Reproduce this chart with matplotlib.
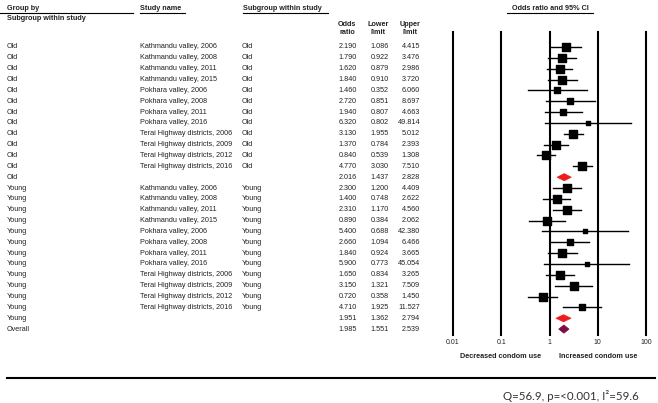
import matplotlib
matplotlib.use("Agg")
import matplotlib.pyplot as plt
import matplotlib.transforms as mtransforms
from matplotlib.patches import Polygon
import numpy as np

plt.rcParams['font.family'] = ['Liberation Sans', 'DejaVu Sans']

# study rows
studies = ['Kathmandu valley, 2006', 'Kathmandu valley, 2008', 'Kathmandu valley, 2011',
           'Kathmandu valley, 2015', 'Pokhara valley, 2006', 'Pokhara valley, 2008',
           'Pokhara valley, 2011', 'Pokhara valley, 2016', 'Terai Highway districts, 2006',
           'Terai Highway districts, 2009', 'Terai Highway districts, 2012',
           'Terai Highway districts, 2016']

old_or = [2.190, 1.790, 1.620, 1.840, 1.460, 2.720, 1.940, 6.320, 3.130, 1.370, 0.840, 4.770]
old_lo = [1.086, 0.922, 0.879, 0.910, 0.352, 0.851, 0.807, 0.802, 1.955, 0.784, 0.539, 3.030]
old_hi = [4.415, 3.476, 2.986, 3.720, 6.060, 8.697, 4.663, 49.814, 5.012, 2.393, 1.308, 7.510]

young_or = [2.300, 1.400, 2.310, 0.890, 5.400, 2.660, 1.840, 5.900, 1.650, 3.150, 0.720, 4.710]
young_lo = [1.200, 0.748, 1.170, 0.384, 0.688, 1.094, 0.924, 0.773, 0.834, 1.321, 0.358, 1.925]
young_hi = [4.409, 2.622, 4.560, 2.062, 42.380, 6.466, 3.665, 45.054, 3.265, 7.509, 1.450, 11.527]

# summaries: Old, Young, Overall
summary_labels = ['Old', 'Young', 'Overall']
summary_or = [2.016, 1.951, 1.985]
summary_lo = [1.437, 1.362, 1.551]
summary_hi = [2.828, 2.794, 2.539]

ticks = [0.01, 0.1, 1, 10, 100]
stats_text = 'Q=56.9, p=<0.001, I²=59.6'

W, H = 658, 403
fig = plt.figure(figsize=(W / 100, H / 100), dpi=100)


def fx(x):
    return x / W


def fy(y):
    return 1 - y / H


# forest axes: 0.01 at x=453px, 100 at x=646px; lines from y=32 to 335
ax = fig.add_axes([fx(453), fy(335), (646 - 453) / W, (335 - 32) / H])
row0, dy = 47.0, 10.85
ax.set_xscale('log')
ax.set_xlim(0.01, 100)
ax.set_ylim((335 - row0) / dy, (32 - row0) / dy)
for s in ax.spines.values():
    s.set_visible(False)
ax.set_yticks([])
ax.set_xticks(ticks)
ax.set_xticklabels(['0.01', '0.1', '1', '10', '100'])
ax.minorticks_off()
ax.tick_params(axis='x', length=0, pad=3, labelsize=5, colors='#222222')
for t in ticks:
    ax.axvline(t, color='black', lw=1.5, clip_on=False)

trans = mtransforms.blended_transform_factory(fig.transFigure, ax.transData)
fs = 5.2
tc = '#222222'

# random-effects style weights for square sizes
tau2 = 0.23


def sq_size(lo, hi):
    se = (np.log(np.array(hi)) - np.log(np.array(lo))) / 3.92
    w = 1 / (se ** 2 + tau2)
    side = 8.6 * np.sqrt(w / 3.52)
    return (side * 0.72) ** 2


def num(v):
    return f'{v:.3f}'


def row_text(i, group, study, sub, o, lo, hi):
    ax.text(fx(7), i, group, transform=trans, fontsize=fs, color=tc, va='center')
    if study:
        ax.text(fx(140), i, study, transform=trans, fontsize=fs, color=tc, va='center')
    if sub:
        ax.text(fx(242), i, sub, transform=trans, fontsize=fs, color=tc, va='center')
    ax.text(fx(357), i, num(o), transform=trans, fontsize=fs, color=tc, va='center', ha='right')
    ax.text(fx(389), i, num(lo), transform=trans, fontsize=fs, color=tc, va='center', ha='right')
    ax.text(fx(420), i, num(hi), transform=trans, fontsize=fs, color=tc, va='center', ha='right')


def diamond(i, o, lo, hi, color, h):
    ax.add_patch(Polygon([[lo, i], [o, i - h], [hi, i], [o, i + h]], closed=True,
                         facecolor=color, edgecolor=color, lw=0.5))


row = 0
groups = [('Old', old_or, old_lo, old_hi, 0), ('Young', young_or, young_lo, young_hi, 1)]
for name, o_vals, lo_vals, hi_vals, k in groups:
    sizes = sq_size(lo_vals, hi_vals)
    for j in range(len(studies)):
        row_text(row, name, studies[j], name, o_vals[j], lo_vals[j], hi_vals[j])
        ax.plot([lo_vals[j], hi_vals[j]], [row, row], color='black', lw=1.0)
        ax.scatter([o_vals[j]], [row], marker='s', s=sizes[j], color='black', zorder=3)
        row += 1
    row_text(row, summary_labels[k], '', '', summary_or[k], summary_lo[k], summary_hi[k])
    diamond(row, summary_or[k], summary_lo[k], summary_hi[k], '#ee1c1c', 0.33)
    row += 1
row_text(row, summary_labels[2], '', '', summary_or[2], summary_lo[2], summary_hi[2])
diamond(row, summary_or[2], summary_lo[2], summary_hi[2], '#7a1040', 0.38)

# headers
hb = dict(fontsize=fs, color=tc, fontweight='bold')
fig.text(fx(7), fy(8), 'Group by', va='center', **hb)
fig.text(fx(7), fy(19), 'Subgroup within study', va='center', **hb)
fig.text(fx(140), fy(8), 'Study name', va='center', **hb)
fig.text(fx(243), fy(8), 'Subgroup within study', va='center', **hb)
fig.text(fx(550), fy(8), 'Odds ratio and 95% CI', va='center', ha='center', **hb)
for xc, a, b in [(347, 'Odds', 'ratio'), (378, 'Lower', 'limit'), (410, 'Upper', 'limit')]:
    fig.text(fx(xc), fy(25), a, va='center', ha='center', **hb)
    fig.text(fx(xc), fy(33), b, va='center', ha='center', **hb)

for x0, x1 in [(0, 133), (140, 185), (243, 328), (507, 593)]:
    fig.add_artist(plt.Line2D([fx(x0), fx(x1)], [fy(13), fy(13)], color='black', lw=0.8))

fig.text(fx(501), fy(356), 'Decreased condom use', va='center', ha='center', **hb)
fig.text(fx(598), fy(356), 'Increased condom use', va='center', ha='center', **hb)

fig.add_artist(plt.Line2D([fx(7), fx(655)], [fy(378), fy(378)], color='black', lw=1.5))
fig.text(fx(571), fy(396), stats_text, va='center', ha='center', fontsize=8.3,
         color='#333333', family=['Lato', 'DejaVu Sans'])

fig.savefig('out.png', dpi=100)
